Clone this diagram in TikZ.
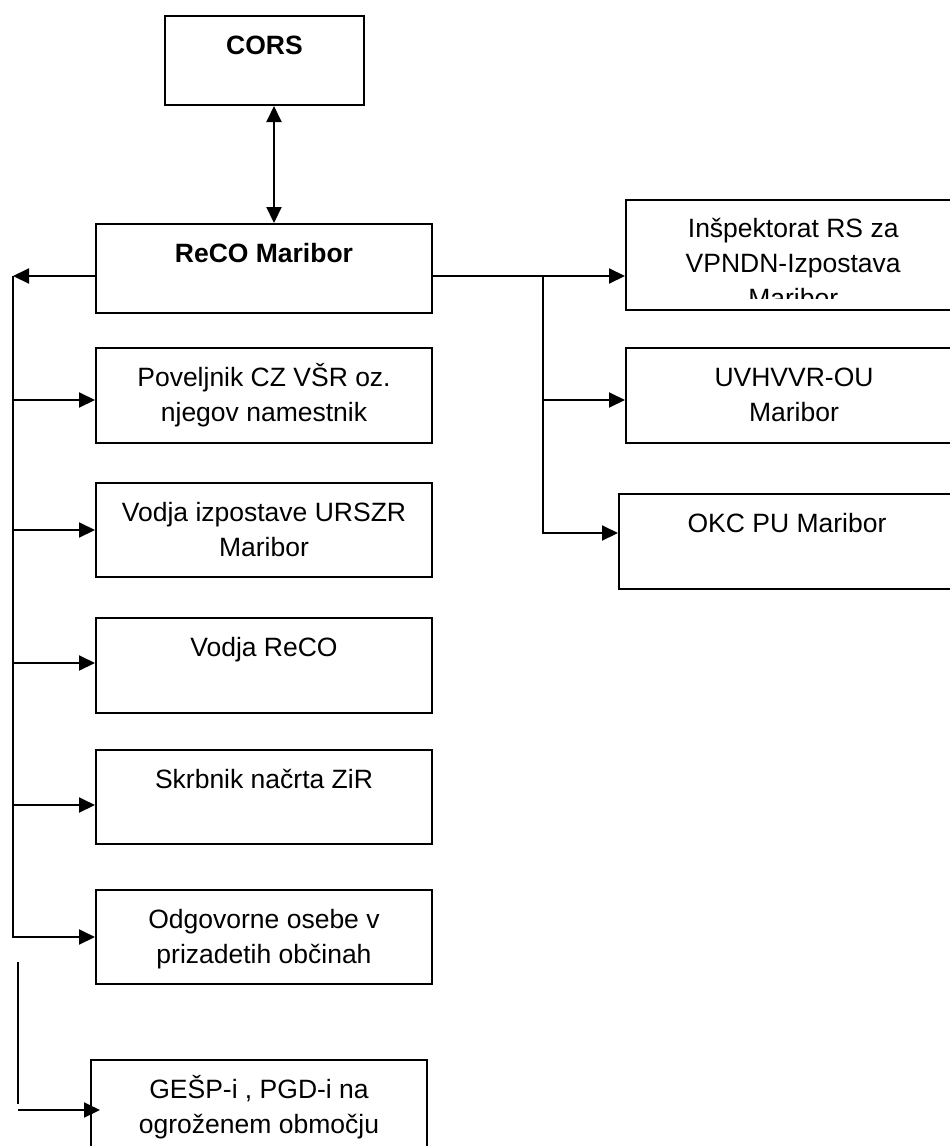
\documentclass[tikz,border=0pt]{standalone}
\usepackage{fontspec}
\setmainfont{Liberation Sans}
\usetikzlibrary{arrows.meta}
\newcommand{\unitfont}{\fontsize{26.5}{35}\selectfont}
\newcommand{\boxlines}[3]{\parbox[t][#2][t]{#1}{\centering\rule{0pt}{38pt}#3}}

\begin{document}
\begin{tikzpicture}[x=1pt, y=-1pt,
    unit/.style={draw, line width=2pt, inner sep=0pt, anchor=north west, font=\unitfont},
    link/.style={line width=2pt},
    feed/.style={link, -{Triangle[length=16pt,width=15pt]}},
    twoway/.style={link, {Triangle[length=16pt,width=15pt]}-{Triangle[length=16pt,width=15pt]}}
  ]
  \useasboundingbox (0,0) rectangle (950,1146);
  \clip (0,0) rectangle (950,1146);

  % top
  \node[unit] (cors) at (164,15) {\boxlines{199pt}{89pt}{\textbf{CORS}}};
  \node[unit] (reco) at (95,223) {\boxlines{336pt}{89pt}{\textbf{ReCO Maribor}}};

  % left column
  \node[unit] (povelj) at (95,347) {\boxlines{336pt}{95pt}{Poveljnik CZ VŠR oz.\\ njegov namestnik}};
  \node[unit] (vodjaiz) at (95,482) {\boxlines{336pt}{94pt}{Vodja izpostave URSZR\\ Maribor}};
  \node[unit] (vodjareco) at (95,617) {\boxlines{336pt}{95pt}{Vodja ReCO}};
  \node[unit] (skrbnik) at (95,749) {\boxlines{336pt}{94pt}{Skrbnik načrta ZiR}};
  \node[unit] (odgovorne) at (95,889) {\boxlines{336pt}{94pt}{Odgovorne osebe v\\ prizadetih občinah}};
  \node[unit] (gesp) at (90,1059) {\boxlines{336pt}{94pt}{GEŠP-i , PGD-i na\\ ogroženem območju}};

  % right column
  \node[unit, minimum width=336pt, minimum height=110pt] (insp) at (625,199) {};
  \begin{scope}
    \clip (insp.north west) rectangle (950,298);
    \node[anchor=north west, inner sep=0pt, font=\unitfont] (insptext) at (insp.north west)
      {\boxlines{336pt}{110pt}{Inšpektorat RS za\\ VPNDN-Izpostava\\ Maribor}};
  \end{scope}
  \node[unit] (uvhvvr) at (625,347) {\boxlines{336pt}{95pt}{UVHVVR-OU\\ Maribor}};
  \node[unit] (okc) at (618,493) {\boxlines{336pt}{95pt}{OKC PU Maribor}};

  % connectors
  \draw[twoway] ([xshift=9.5pt]cors.south) -- ([xshift=10pt]reco.north);

  \coordinate (busL) at (13,276);
  \draw[feed] (reco.west |- busL) -- (busL);
  \draw[feed] (busL) -- (13,937) -- (odgovorne.west |- 0,937);
  \foreach \n/\y in {povelj/400, vodjaiz/530, vodjareco/663, skrbnik/805}
    \draw[feed] (13,\y) -- (\n.west |- 0,\y);

  \coordinate (busR) at (543,276);
  \draw[feed] (reco.east |- busR) -- (insp.west |- busR);
  \draw[feed] (busR) -- (543,533) -- (okc.west |- 0,533);
  \draw[feed] (543,400) -- (uvhvvr.west |- 0,400);

  \draw[line width=1.3pt] (18,962) -- (18,1104);
  \draw[feed, shorten >=-10pt] (18,1110) -- (gesp.west |- 0,1110);
\end{tikzpicture}
\end{document}
